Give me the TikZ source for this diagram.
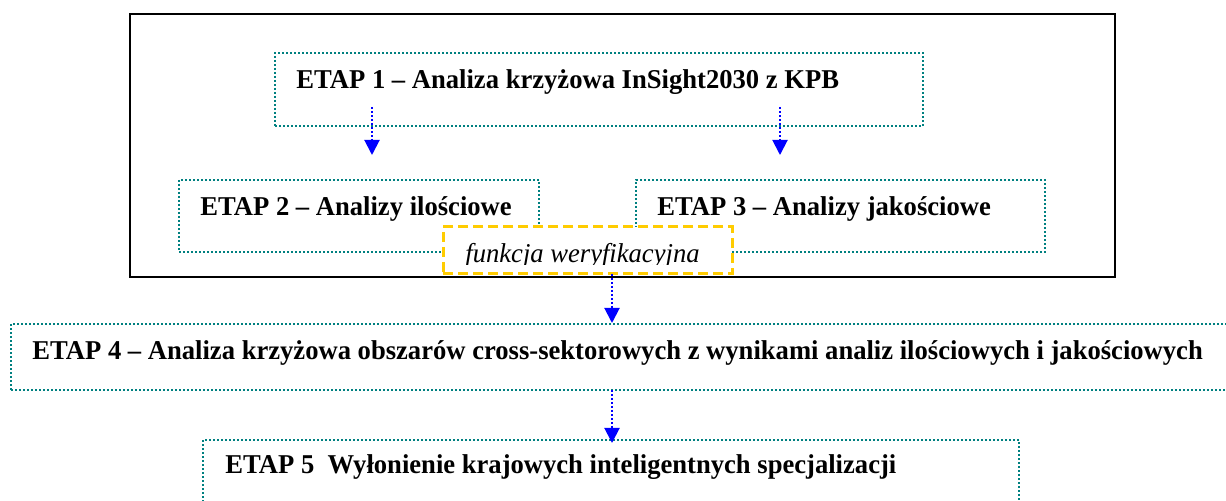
\documentclass[tikz,border=0pt]{standalone}
\usepackage{fontspec}
\setmainfont{Liberation Serif}[FakeStretch=0.978]
\usetikzlibrary{arrows.meta}
\definecolor{dotteal}{RGB}{0,128,128}
\definecolor{checkyellow}{RGB}{255,204,0}
\begin{document}
\begin{tikzpicture}[x=0.5pt,y=-0.5pt]
        \clip (0,0) rectangle (1226,501);
        \tikzstyle{stage}=[draw=dotteal, line width=1pt, dash pattern=on 1pt off 1pt, inner sep=0pt, outer sep=0pt, anchor=north west]
        \tikzstyle{stagetext}=[inner sep=0pt, anchor=base west, font=\fontsize{13.6}{16}\selectfont\bfseries]
        \tikzstyle{flow}=[blue, line width=1pt, dash pattern=on 1pt off 1pt, -{Triangle[width=7.5pt,length=7.5pt]}]

        \node (frame) [draw, line width=1pt, inner sep=0pt, outer sep=0pt, anchor=north west, minimum width=492.5pt, minimum height=131.5pt] at (130,14) {};
        \node (e1) [stage, minimum width=324pt, minimum height=36.5pt] at (275,53) {};
        \node (e2) [stage, minimum width=180pt, minimum height=36pt] at (179,180) {};
        \node (e3) [stage, minimum width=204.5pt, minimum height=36pt] at (636,180) {};
        \path (e1.north west) ++(21,36) node (t1) [stagetext] {ETAP 1 – Analiza krzyżowa InSight2030 z KPB};
        \path (e2.north west) ++(21,36) node (t2) [stagetext] {ETAP 2 – Analizy ilościowe};
        \path (e3.north west) ++(21,36) node (t3) [stagetext] {ETAP 3 – Analizy jakościowe};

        \coordinate (a2) at (372,155);
        \coordinate (a3) at (780,155);
        \draw[flow] (e1.south -| a2) ++(0,-19) -- (a2);
        \draw[flow] (e1.south -| a3) ++(0,-19) -- (a3);

        \node (vf) [draw=checkyellow, fill=white, line width=1.5pt, dash pattern=on 5pt off 2.5pt, inner sep=0pt, outer sep=0pt, anchor=north west, minimum width=144.5pt, minimum height=23.5pt] at (443,227) {};
        \begin{scope}
                \clip (vf.north west) rectangle (732,265);
                \path (vf.north west) ++(22,36) node (vft) [inner sep=0pt, anchor=base west, font=\fontsize{13.6}{16}\selectfont\itshape] {funkcja weryfikacyjna};
        \end{scope}

        \node (e4) [stage, minimum width=614.5pt, minimum height=33pt] at (11,324) {};
        \node (e5) [stage, minimum width=408pt, minimum height=40pt] at (203,440) {};
        \path (e4.north west) ++(21,36) node (t4) [stagetext] {ETAP 4 – Analiza krzyżowa obszarów cross-sektorowych z wynikami analiz ilościowych i jakościowych};
        \path (e5.north west) ++(22,34) node (t5) [stagetext] {ETAP 5~ Wyłonienie krajowych inteligentnych specjalizacji};

        \coordinate (c4) at (612,323);
        \coordinate (c5) at (612,443);
        \draw[flow] (vf.south -| c4) -- (c4);
        \draw[flow] (e4.south -| c5) -- (c5);
\end{tikzpicture}
\end{document}
